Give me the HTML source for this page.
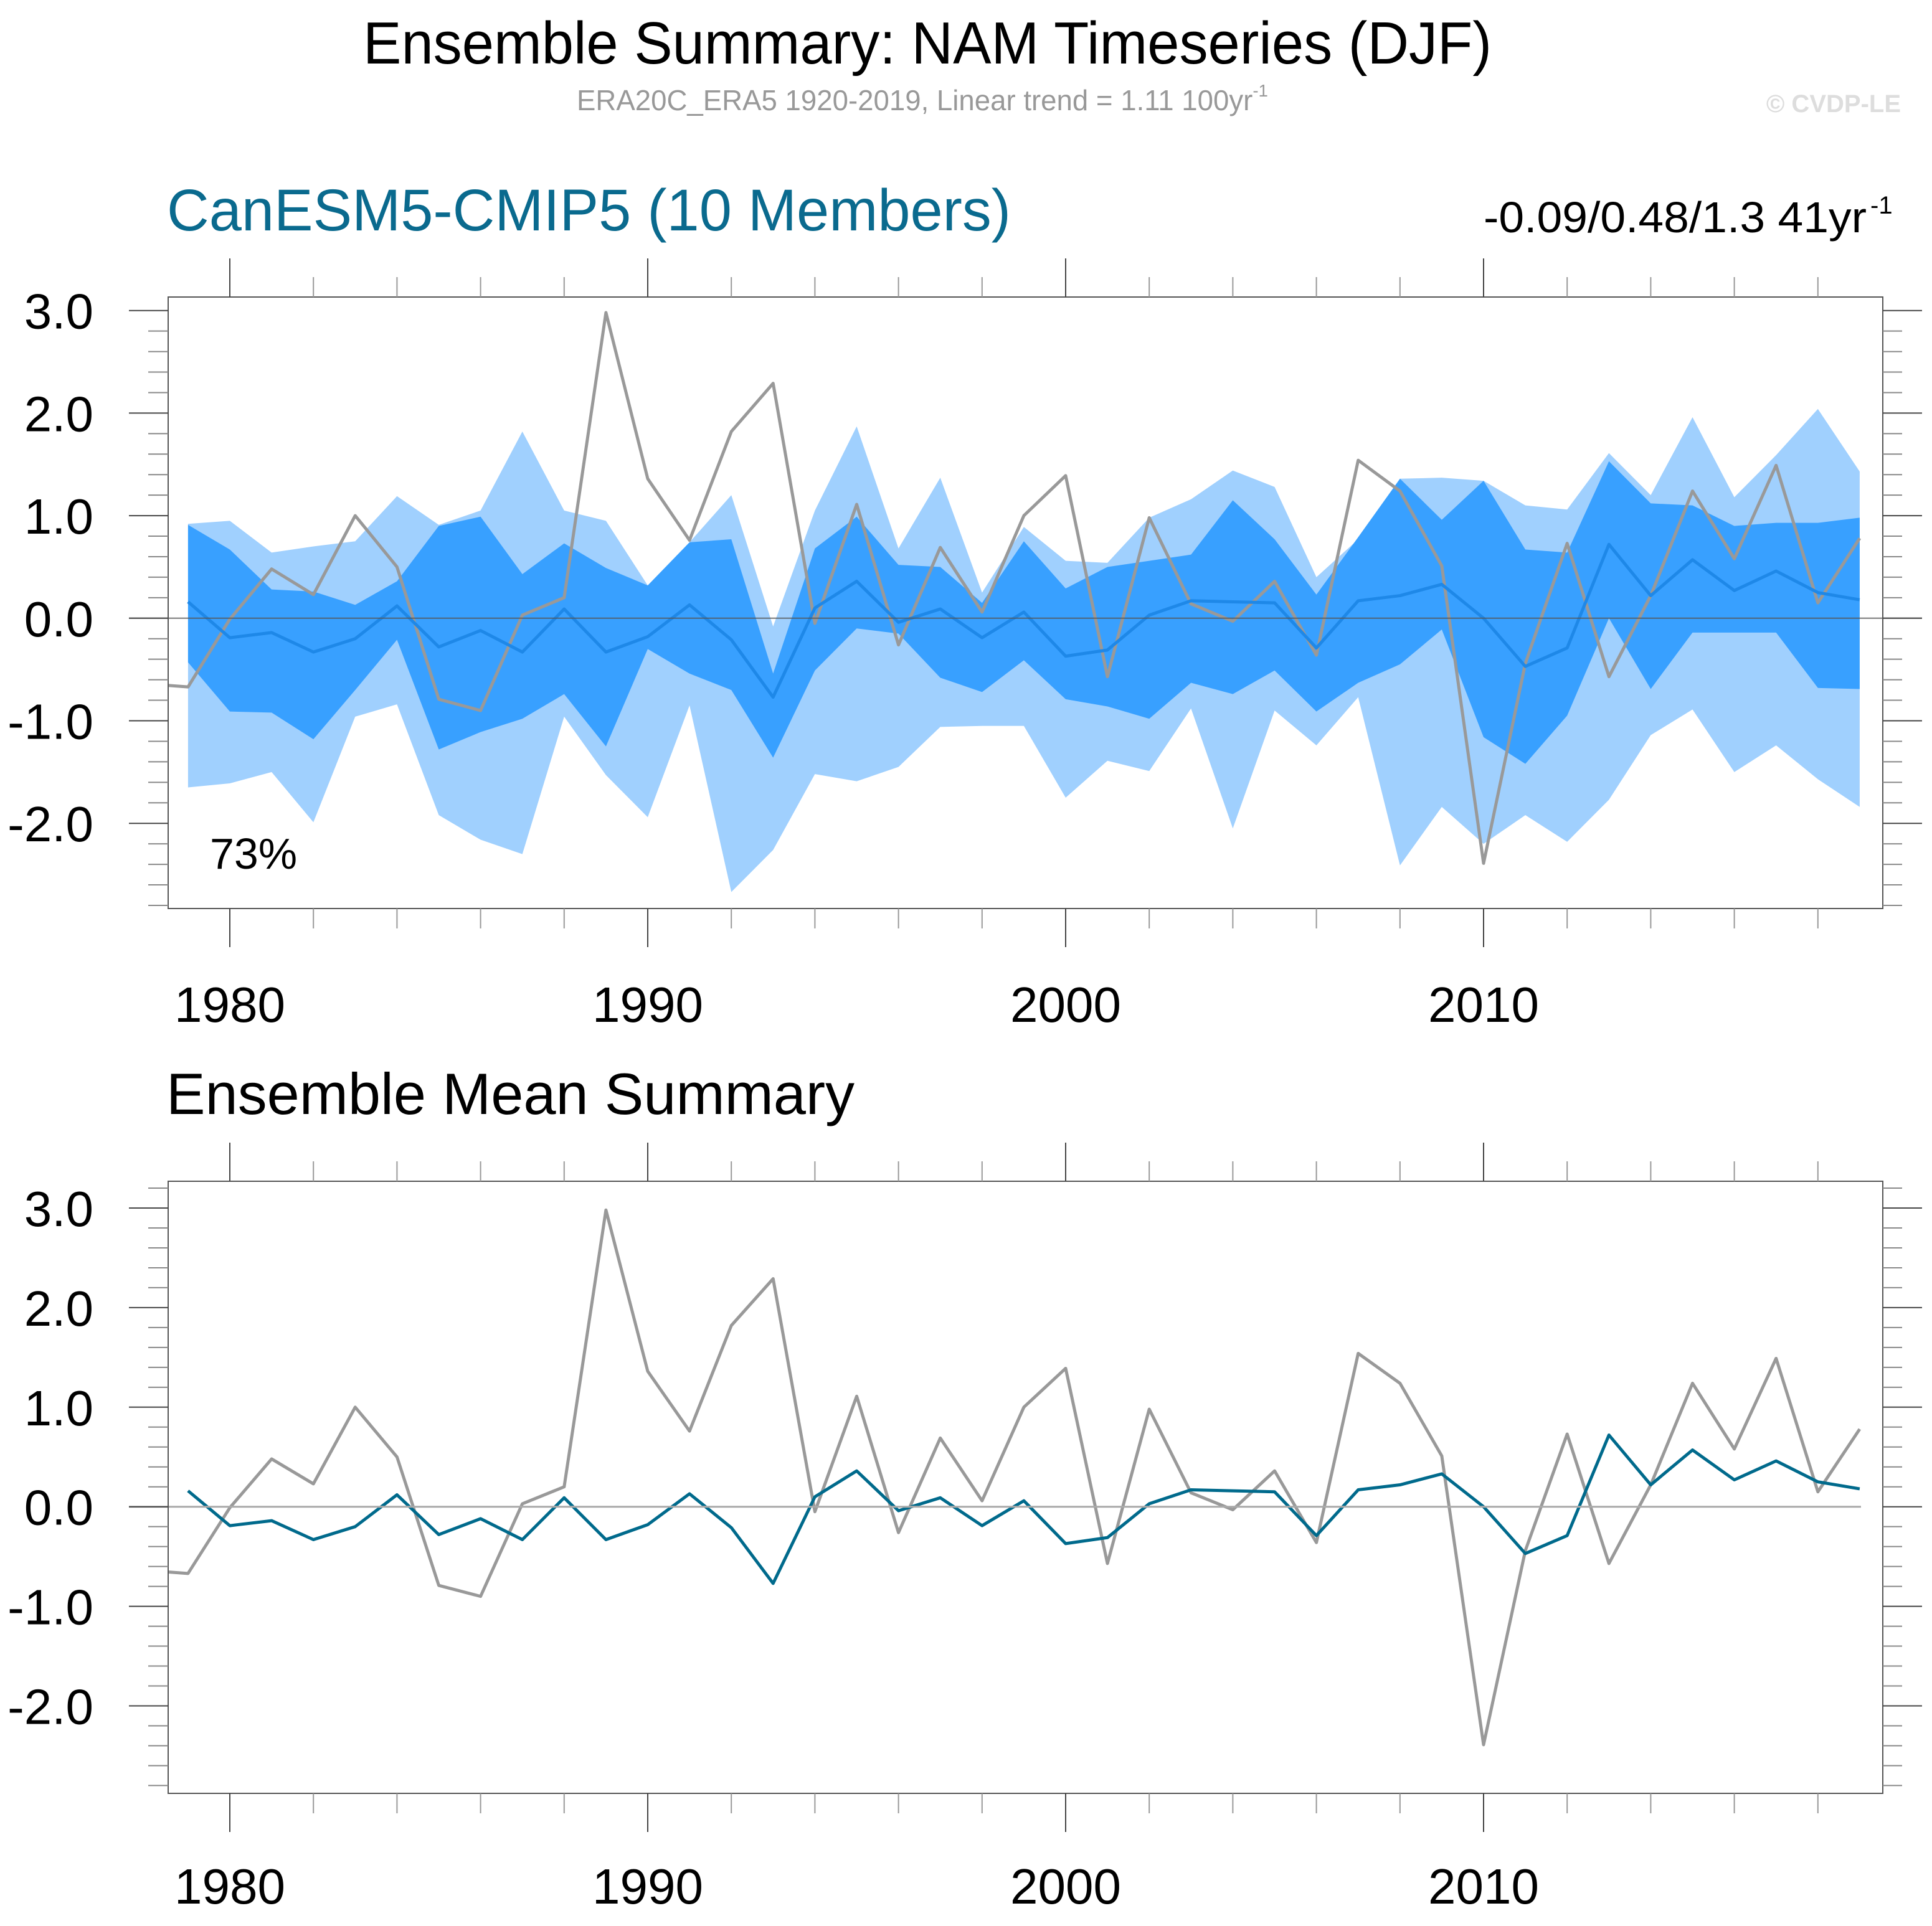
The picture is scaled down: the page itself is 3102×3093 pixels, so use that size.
<!DOCTYPE html>
<html><head><meta charset="utf-8"><style>
html,body{margin:0;padding:0;background:#fff;}
svg{display:block;font-family:"Liberation Sans",sans-serif;}
</style></head><body>
<svg id="chart" xmlns="http://www.w3.org/2000/svg" width="3102" height="3093" viewBox="0 0 3102 3093">
<rect x="0" y="0" width="3102" height="3093" fill="#fff"/>
<text x="583" y="102" font-size="96" textLength="1812" lengthAdjust="spacingAndGlyphs" fill="#000">Ensemble Summary: NAM Timeseries (DJF)</text>
<text x="926" y="177" font-size="46" fill="#999" textLength="1110" lengthAdjust="spacingAndGlyphs">ERA20C_ERA5 1920-2019, Linear trend = 1.11 100yr<tspan dy="-22" font-size="28">-1</tspan></text>
<text x="3052" y="180" font-size="40" font-weight="bold" fill="#ddd" text-anchor="end">© CVDP-LE</text>
<text x="268" y="370" font-size="95" fill="#0a6a8e" textLength="1355" lengthAdjust="spacingAndGlyphs">CanESM5-CMIP5 (10 Members)</text>
<text x="2382" y="373" font-size="70" fill="#000" textLength="615" lengthAdjust="spacingAndGlyphs">-0.09/0.48/1.3 41yr</text>
<text x="3003" y="343" font-size="40" fill="#000">-1</text>
<text x="267" y="1789" font-size="94" fill="#000" textLength="1105" lengthAdjust="spacingAndGlyphs">Ensemble Mean Summary</text>
<g id="top"></g>
<g id="bot"></g>
</svg>
<script>
const years = [1979,1980,1981,1982,1983,1984,1985,1986,1987,1988,1989,1990,1991,1992,1993,1994,1995,1996,1997,1998,1999,2000,2001,2002,2003,2004,2005,2006,2007,2008,2009,2010,2011,2012,2013,2014,2015,2016,2017,2018,2019];
const obsYears = [1978,1979,1980,1981,1982,1983,1984,1985,1986,1987,1988,1989,1990,1991,1992,1993,1994,1995,1996,1997,1998,1999,2000,2001,2002,2003,2004,2005,2006,2007,2008,2009,2010,2011,2012,2013,2014,2015,2016,2017,2018,2019];
const obsValues = [-0.64,-0.67,-0.01,0.48,0.23,1.0,0.5,-0.79,-0.9,0.03,0.2,2.98,1.36,0.76,1.82,2.29,-0.05,1.11,-0.26,0.69,0.06,1.0,1.39,-0.57,0.98,0.14,-0.03,0.36,-0.36,1.54,1.24,0.51,-2.39,-0.44,0.73,-0.57,0.22,1.24,0.58,1.49,0.15,0.78];
const meanValues = [0.16,-0.19,-0.14,-0.33,-0.2,0.12,-0.28,-0.12,-0.33,0.09,-0.33,-0.18,0.13,-0.21,-0.77,0.1,0.36,-0.04,0.09,-0.19,0.06,-0.37,-0.31,0.03,0.17,0.16,0.15,-0.29,0.17,0.22,0.33,0.0,-0.47,-0.29,0.72,0.22,0.57,0.27,0.46,0.25,0.18];
const lightTop = [0.92,0.95,0.64,0.70,0.75,1.19,0.91,1.05,1.82,1.05,0.95,0.32,0.74,1.2,-0.08,1.05,1.87,0.68,1.37,0.25,0.89,0.56,0.54,0.98,1.16,1.44,1.28,0.40,0.77,1.36,1.37,1.34,1.10,1.06,1.61,1.20,1.96,1.18,1.59,2.04,1.43];
const darkTop = [0.91,0.67,0.28,0.26,0.13,0.36,0.90,0.99,0.43,0.73,0.49,0.32,0.74,0.77,-0.54,0.68,0.99,0.52,0.50,0.15,0.75,0.29,0.50,0.56,0.62,1.15,0.77,0.23,0.79,1.36,0.96,1.34,0.67,0.64,1.53,1.12,1.10,0.90,0.93,0.93,0.98];
const darkBottom = [-0.43,-0.91,-0.92,-1.18,-0.70,-0.21,-1.28,-1.11,-0.98,-0.74,-1.25,-0.30,-0.54,-0.70,-1.36,-0.51,-0.10,-0.15,-0.58,-0.72,-0.41,-0.79,-0.86,-0.98,-0.63,-0.74,-0.51,-0.91,-0.63,-0.45,-0.11,-1.16,-1.42,-0.95,0.0,-0.69,-0.14,-0.14,-0.14,-0.68,-0.69];
const lightBottom = [-1.65,-1.61,-1.50,-1.99,-0.96,-0.84,-1.92,-2.16,-2.30,-0.96,-1.53,-1.94,-0.85,-2.67,-2.26,-1.52,-1.59,-1.45,-1.06,-1.05,-1.05,-1.75,-1.39,-1.49,-0.88,-2.05,-0.90,-1.24,-0.77,-2.41,-1.84,-2.20,-1.92,-2.18,-1.77,-1.14,-0.89,-1.50,-1.24,-1.57,-1.84];
const yTickValues = [3,2,1,0,-1,-2];
const yTickLabels = ["3.0","2.0","1.0","0.0","-1.0","-2.0"];
const xTickYears = [1980,1990,2000,2010];
const percentLabel = "73%";

const NS = "http://www.w3.org/2000/svg";
function mk(parent, tag, attrs){ const e=document.createElementNS(NS,tag); for(const k in attrs) e.setAttribute(k,attrs[k]); parent.appendChild(e); return e; }
function xScale(yr){ return 369 + (yr-1980)*67.1; }
const X0=270, X1=3023;

function panel(g, top, bottom, zeroY, perUnit, isTop, id){
  const yS = v => zeroY - v*perUnit;
  const clipId = 'clip'+id;
  const defs = mk(g,'defs',{});
  const cp = mk(defs,'clipPath',{id:clipId});
  mk(cp,'rect',{x:X0,y:top,width:X1-X0,height:bottom-top});
  const plot = mk(g,'g',{'clip-path':'url(#'+clipId+')'});
  
  
  if(isTop){
    const band=(up,lo,col,name)=>{
      let pts=years.map((y,i)=>xScale(y)+','+yS(up[i]));
      for(let i=years.length-1;i>=0;i--) pts.push(xScale(years[i])+','+yS(lo[i]));
      const p=mk(plot,'polygon',{points:pts.join(' '),fill:col});
      
      
    };
    band(lightTop,lightBottom,'#a0d0fe','outer-spread-band');
    band(darkTop,darkBottom,'#38a0ff','inner-spread-band');
  }
  // zero line
  const zl=mk(g,'line',{x1:207,x2:isTop?3086:2988,y1:zeroY,y2:zeroY,stroke:isTop?'#555':'#aaa','stroke-width':isTop?2:3,'stroke-opacity':isTop?0.8:1});
  
  
  const obs=mk(plot,'polyline',{points:obsYears.map((y,i)=>xScale(y)+','+yS(obsValues[i])).join(' '),fill:'none',stroke:'#999','stroke-width':5,'stroke-linejoin':'round'});
  
  
  const mean=mk(plot,'polyline',{points:years.map((y,i)=>xScale(y)+','+yS(meanValues[i])).join(' '),fill:'none',stroke:isTop?'#1e88e8':'#006a8c','stroke-width':5,'stroke-linejoin':'round'});
  
  
  // frame
  const fr=mk(g,'rect',{x:X0,y:top,width:X1-X0,height:bottom-top,fill:'none',stroke:'#555','stroke-width':2});
  
  
  // y ticks
  for(let k=16;k>=-14;k--){
    const v=k*0.2, y=yS(v);
    if(y<top-1||y>bottom+1) continue;
    const major=Math.abs(k%5)===0;
    const col=major?'#444':'#888';
    const l1=mk(g,'line',{x1:major?207:238,x2:X0,y1:y,y2:y,stroke:col,'stroke-width':2});
    
    
    const l2=mk(g,'line',{x1:X1,x2:major?3086:3054,y1:y,y2:y,stroke:col,'stroke-width':2});
    
    
  }
  yTickValues.forEach((v,i)=>{
    const t=mk(g,'text',{x:150,y:yS(v)+29,'font-size':80,'text-anchor':'end',fill:'#000'});
    t.textContent=yTickLabels[i];
    
    
  });
  // x ticks
  for(let yr=1980; yr<=2018; yr+=2){
    const x=xScale(yr), major=(yr%10===0);
    const len=major?62:32;
    const a=mk(g,'line',{x1:x,x2:x,y1:top-len,y2:top,stroke:major?'#444':'#999','stroke-width':2});
    
    
    const b=mk(g,'line',{x1:x,x2:x,y1:bottom,y2:bottom+len,stroke:major?'#444':'#999','stroke-width':2});
    
    
  }
  xTickYears.forEach(yr=>{
    const t=mk(g,'text',{x:xScale(yr),y:bottom+(isTop?182:177),'font-size':80,'text-anchor':'middle',fill:'#000'});
    t.textContent=String(yr);
    
    
  });
  if(isTop){
    const t=mk(g,'text',{x:337,y:1395,'font-size':70,fill:'#000'});
    t.textContent=percentLabel;
    
    
  }
}
panel(document.getElementById('top'),477,1459,992.8,164.7,true,'top-panel');
panel(document.getElementById('bot'),1897,2880,2419.7,159.9,false,'bottom-panel');
</script>
</body></html>
